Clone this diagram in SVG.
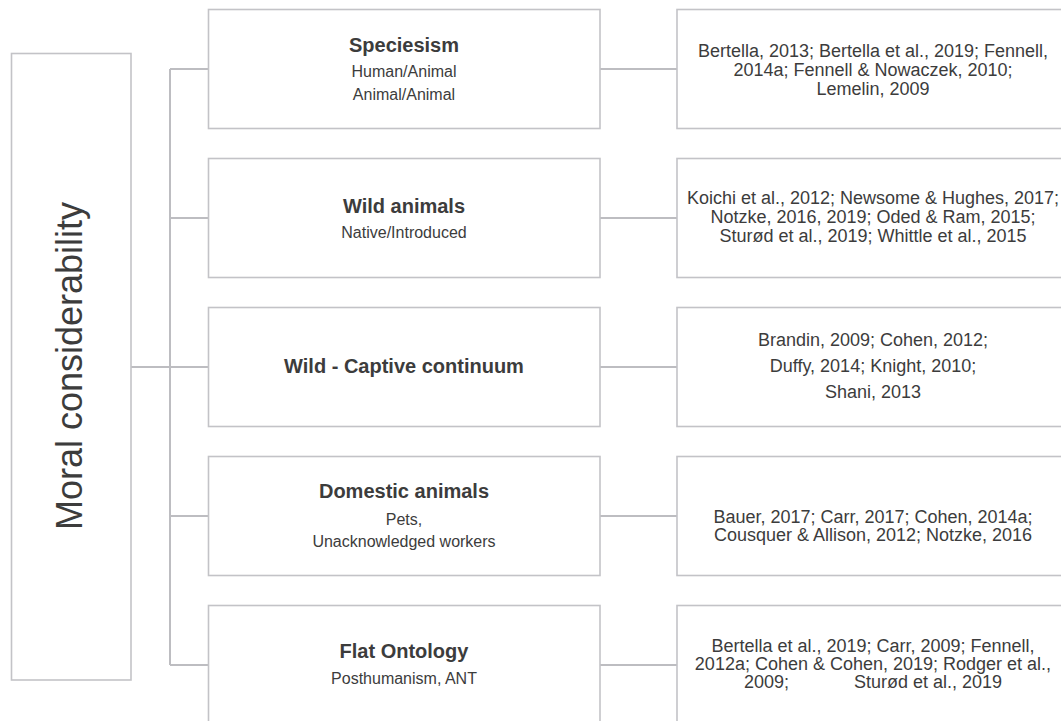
<svg xmlns="http://www.w3.org/2000/svg" width="1061" height="721" viewBox="0 0 1061 721">
<style>
.box{fill:#ffffff;stroke:#c3c3c7;stroke-width:1.6}
.con{fill:none;stroke:#bdbdc1;stroke-width:2}
.t{font-family:"Liberation Sans",Arial,sans-serif;fill:#3c3c3c;text-anchor:middle}
.title{font-size:20px;font-weight:bold}
.sub{font-size:16px}
.ref{font-size:18px}
.root{font-size:36px}
</style>
<rect width="1061" height="721" fill="#ffffff"/>
<g id="connectors">
<path class="con" d="M170 69V665M170 69H208M170 218H208M131 367H208M170 516H208M170 665H208"/>
<path class="con" d="M600 69H677M600 218H677M600 367H677M600 516H677M600 665H677"/>
</g>
<g id="root">
<rect class="box" x="11.5" y="53.5" width="119.5" height="626.5"/>
<text class="t root" transform="translate(82 366) rotate(-90)">Moral considerability</text>
</g>
<g id="speciesism">
<rect class="box" x="208.5" y="9.5" width="391.5" height="119"/>
<text class="t title" x="404" y="52">Speciesism</text>
<text class="t sub" x="404" y="77">Human/Animal</text>
<text class="t sub" x="404" y="100">Animal/Animal</text>
</g>
<g id="wild">
<rect class="box" x="208.5" y="158.5" width="391.5" height="119"/>
<text class="t title" x="404" y="213">Wild animals</text>
<text class="t sub" x="404" y="238">Native/Introduced</text>
</g>
<g id="continuum">
<rect class="box" x="208.5" y="307.5" width="391.5" height="119"/>
<text class="t title" x="404" y="373">Wild - Captive continuum</text>
</g>
<g id="domestic">
<rect class="box" x="208.5" y="456.5" width="391.5" height="119"/>
<text class="t title" x="404" y="498">Domestic animals</text>
<text class="t sub" x="404" y="525">Pets,</text>
<text class="t sub" x="404" y="547">Unacknowledged workers</text>
</g>
<g id="flat">
<rect class="box" x="208.5" y="605.5" width="391.5" height="119"/>
<text class="t title" x="404" y="658">Flat Ontology</text>
<text class="t sub" x="404" y="684">Posthumanism, ANT</text>
</g>
<g id="ref-speciesism">
<rect class="box" x="677" y="9.5" width="400" height="119"/>
<text class="t ref" x="873" y="57">Bertella, 2013; Bertella et al., 2019; Fennell,</text>
<text class="t ref" x="873" y="76">2014a; Fennell &amp; Nowaczek, 2010;</text>
<text class="t ref" x="873" y="95">Lemelin, 2009</text>
</g>
<g id="ref-wild">
<rect class="box" x="677" y="158.5" width="400" height="119"/>
<text class="t ref" x="873" y="204">Koichi et al., 2012; Newsome &amp; Hughes, 2017;</text>
<text class="t ref" x="873" y="223">Notzke, 2016, 2019; Oded &amp; Ram, 2015;</text>
<text class="t ref" x="873" y="242">Sturød et al., 2019; Whittle et al., 2015</text>
</g>
<g id="ref-continuum">
<rect class="box" x="677" y="307.5" width="400" height="119"/>
<text class="t ref" x="873" y="346">Brandin, 2009; Cohen, 2012;</text>
<text class="t ref" x="873" y="372">Duffy, 2014; Knight, 2010;</text>
<text class="t ref" x="873" y="398">Shani, 2013</text>
</g>
<g id="ref-domestic">
<rect class="box" x="677" y="456.5" width="400" height="119"/>
<text class="t ref" x="873" y="523">Bauer, 2017; Carr, 2017; Cohen, 2014a;</text>
<text class="t ref" x="873" y="541">Cousquer &amp; Allison, 2012; Notzke, 2016</text>
</g>
<g id="ref-flat">
<rect class="box" x="677" y="605.5" width="400" height="119"/>
<text class="t ref" x="873" y="652">Bertella et al., 2019; Carr, 2009; Fennell,</text>
<text class="t ref" x="873" y="670">2012a; Cohen &amp; Cohen, 2019; Rodger et al.,</text>
<text class="t ref" x="873" y="688" xml:space="preserve" style="white-space:pre">2009;             Sturød et al., 2019</text>
</g>
</svg>
